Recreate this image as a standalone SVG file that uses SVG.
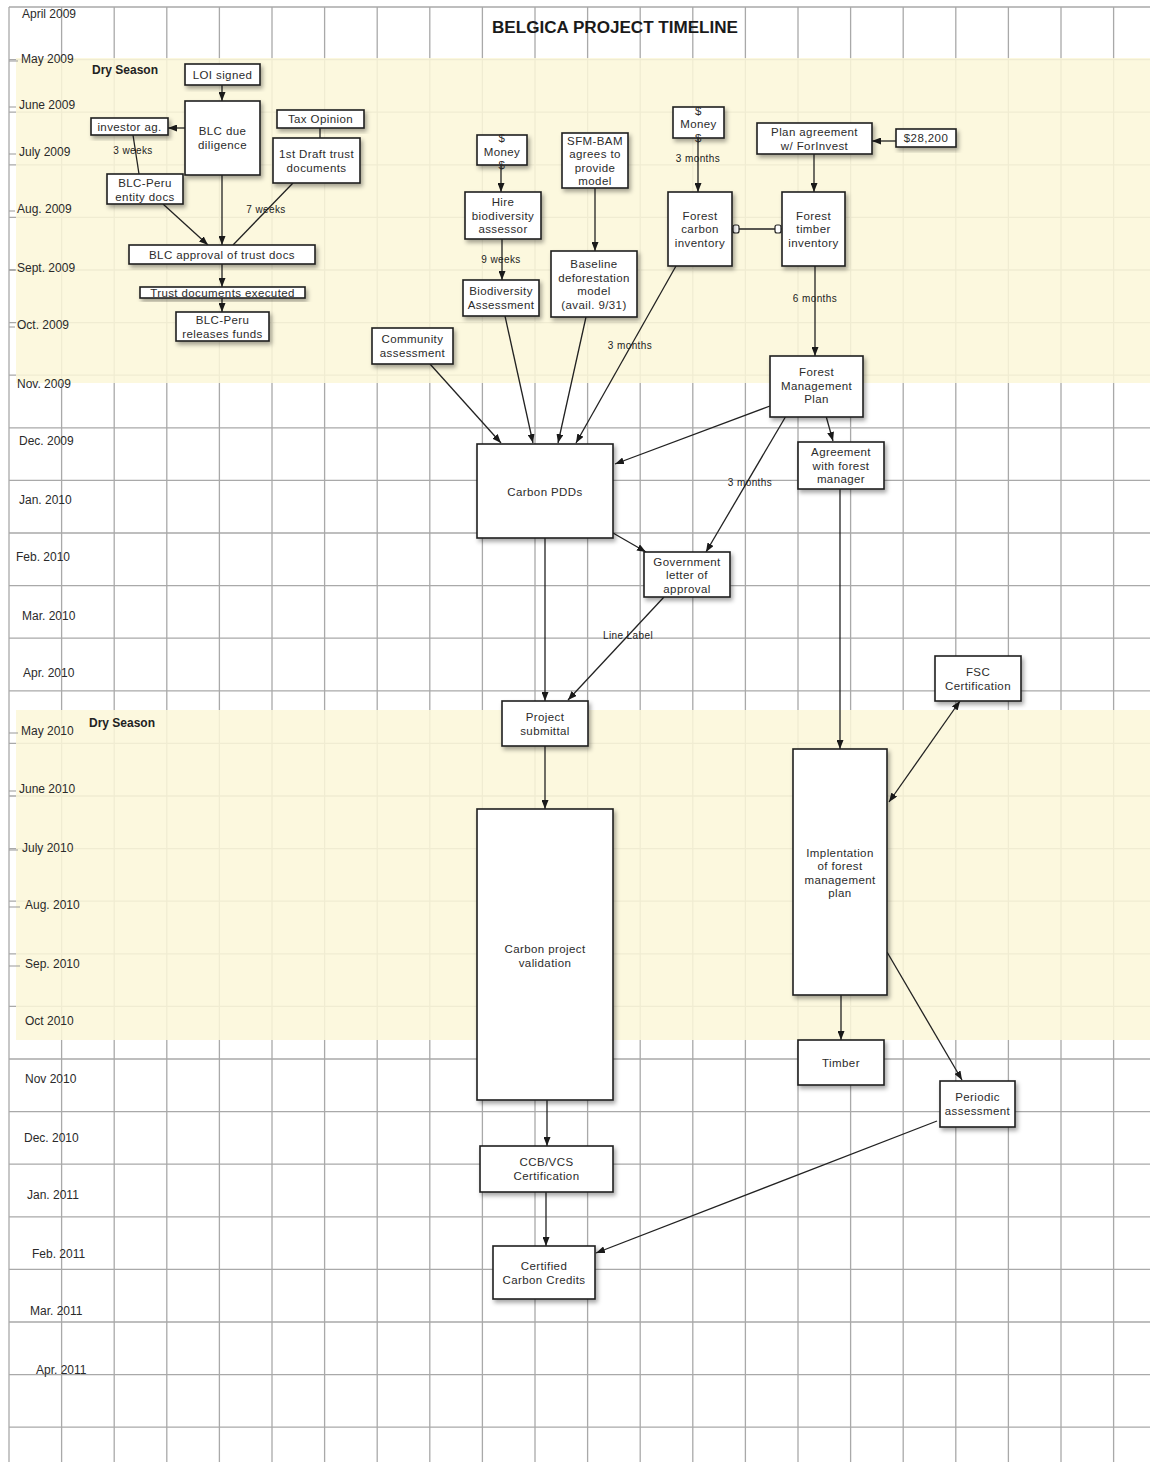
<svg xmlns="http://www.w3.org/2000/svg" width="1150" height="1462" viewBox="0 0 1150 1462">
  <style>
    .grid line { stroke: #a9a9a9; stroke-width: 1.3; }
    .band { fill: #fcf7d9; fill-opacity: 0.86; }
    .month { font-family: "Liberation Sans", Arial, sans-serif; font-size: 12px; fill: #2a2a2a; }
    .tick { stroke: #999; stroke-width: 1; }
    .title { font-family: "Liberation Sans", Arial, sans-serif; font-size: 16px; font-weight: bold; fill: #1a1a1a; }
    .season { font-family: "Liberation Sans", Arial, sans-serif; font-size: 12px; font-weight: bold; fill: #222; }
    .node rect { fill: #ffffff; stroke: #1e1e1e; stroke-width: 1.6; filter: url(#shadow); }
    .node text { font-family: "Liberation Sans", Arial, sans-serif; font-size: 11.5px; letter-spacing: 0.4px; fill: #2b2b2b; text-anchor: middle; }
    .edges line, .edges path { stroke: #222; stroke-width: 1.3; fill: none; }
    .arrow { marker-end: url(#head); }
    .elabel { font-family: "Liberation Sans", Arial, sans-serif; font-size: 10px; letter-spacing: 0.4px; fill: #222; text-anchor: middle; }
    .port { fill: #fff; stroke: #222; stroke-width: 1.2; }
  </style>
  <defs>
    <filter id="shadow" x="-20%" y="-20%" width="150%" height="150%">
      <feDropShadow dx="2" dy="3" stdDeviation="2" flood-color="#000" flood-opacity="0.35"/>
    </filter>
    <marker id="head" viewBox="0 0 9 7" refX="9" refY="3.5" markerWidth="9" markerHeight="7" markerUnits="userSpaceOnUse" orient="auto-start-reverse">
      <path d="M0,0 L9,3.5 L0,7 z" fill="#1a1a1a"/>
    </marker>
  </defs>

  <rect x="0" y="0" width="1150" height="1462" fill="#ffffff"/>

  <!-- background grid -->
  <g class="grid">
    <line x1="9" y1="7" x2="9" y2="1462"/>
    <line x1="61.6" y1="7" x2="61.6" y2="1462"/>
    <line x1="114.2" y1="7" x2="114.2" y2="1462"/>
    <line x1="166.8" y1="7" x2="166.8" y2="1462"/>
    <line x1="219.4" y1="7" x2="219.4" y2="1462"/>
    <line x1="272" y1="7" x2="272" y2="1462"/>
    <line x1="324.6" y1="7" x2="324.6" y2="1462"/>
    <line x1="377.2" y1="7" x2="377.2" y2="1462"/>
    <line x1="429.8" y1="7" x2="429.8" y2="1462"/>
    <line x1="482.4" y1="7" x2="482.4" y2="1462"/>
    <line x1="535" y1="7" x2="535" y2="1462"/>
    <line x1="587.6" y1="7" x2="587.6" y2="1462"/>
    <line x1="640.2" y1="7" x2="640.2" y2="1462"/>
    <line x1="692.8" y1="7" x2="692.8" y2="1462"/>
    <line x1="745.4" y1="7" x2="745.4" y2="1462"/>
    <line x1="798" y1="7" x2="798" y2="1462"/>
    <line x1="850.6" y1="7" x2="850.6" y2="1462"/>
    <line x1="903.2" y1="7" x2="903.2" y2="1462"/>
    <line x1="955.8" y1="7" x2="955.8" y2="1462"/>
    <line x1="1008.4" y1="7" x2="1008.4" y2="1462"/>
    <line x1="1061" y1="7" x2="1061" y2="1462"/>
    <line x1="1113.6" y1="7" x2="1113.6" y2="1462"/>
    <line x1="9" y1="7" x2="1150" y2="7"/>
    <line x1="9" y1="59.6" x2="1150" y2="59.6"/>
    <line x1="9" y1="112.2" x2="1150" y2="112.2"/>
    <line x1="9" y1="164.8" x2="1150" y2="164.8"/>
    <line x1="9" y1="217.4" x2="1150" y2="217.4"/>
    <line x1="9" y1="270" x2="1150" y2="270"/>
    <line x1="9" y1="322.6" x2="1150" y2="322.6"/>
    <line x1="9" y1="375.2" x2="1150" y2="375.2"/>
    <line x1="9" y1="427.8" x2="1150" y2="427.8"/>
    <line x1="9" y1="480.4" x2="1150" y2="480.4"/>
    <line x1="9" y1="533" x2="1150" y2="533"/>
    <line x1="9" y1="585.6" x2="1150" y2="585.6"/>
    <line x1="9" y1="638.2" x2="1150" y2="638.2"/>
    <line x1="9" y1="690.8" x2="1150" y2="690.8"/>
    <line x1="9" y1="743.4" x2="1150" y2="743.4"/>
    <line x1="9" y1="796" x2="1150" y2="796"/>
    <line x1="9" y1="848.6" x2="1150" y2="848.6"/>
    <line x1="9" y1="901.2" x2="1150" y2="901.2"/>
    <line x1="9" y1="953.8" x2="1150" y2="953.8"/>
    <line x1="9" y1="1006.4" x2="1150" y2="1006.4"/>
    <line x1="9" y1="1059" x2="1150" y2="1059"/>
    <line x1="9" y1="1111.6" x2="1150" y2="1111.6"/>
    <line x1="9" y1="1164.2" x2="1150" y2="1164.2"/>
    <line x1="9" y1="1216.8" x2="1150" y2="1216.8"/>
    <line x1="9" y1="1269.4" x2="1150" y2="1269.4"/>
    <line x1="9" y1="1322" x2="1150" y2="1322"/>
    <line x1="9" y1="1374.6" x2="1150" y2="1374.6"/>
    <line x1="9" y1="1427.2" x2="1150" y2="1427.2"/>
  </g>

  <!-- dry season bands -->
  <rect class="band" x="16" y="58" width="1134" height="325"/>
  <rect class="band" x="16" y="710" width="1134" height="330"/>

  <!-- month axis -->
  <g id="months">
    <g class="tick">
      <line x1="9" y1="61" x2="18" y2="61"/>
      <line x1="9" y1="107" x2="16" y2="107"/>
      <line x1="9" y1="154" x2="16" y2="154"/>
      <line x1="9" y1="211" x2="15" y2="211"/>
      <line x1="9" y1="270" x2="15" y2="270"/>
      <line x1="9" y1="327" x2="15" y2="327"/>
      <line x1="9" y1="733" x2="18" y2="733"/>
      <line x1="9" y1="791" x2="16" y2="791"/>
      <line x1="9" y1="850" x2="18" y2="850"/>
      <line x1="9" y1="907" x2="20" y2="907"/>
      <line x1="9" y1="966" x2="20" y2="966"/>
    </g>
    <text class="month" x="22" y="18">April 2009</text>
    <text class="month" x="21" y="63">May 2009</text>
    <text class="month" x="19" y="109">June 2009</text>
    <text class="month" x="19" y="156">July 2009</text>
    <text class="month" x="17" y="213">Aug. 2009</text>
    <text class="month" x="17" y="272">Sept. 2009</text>
    <text class="month" x="17" y="329">Oct. 2009</text>
    <text class="month" x="17" y="388">Nov. 2009</text>
    <text class="month" x="19" y="445">Dec. 2009</text>
    <text class="month" x="19" y="504">Jan. 2010</text>
    <text class="month" x="16" y="561">Feb. 2010</text>
    <text class="month" x="22" y="620">Mar. 2010</text>
    <text class="month" x="23" y="677">Apr. 2010</text>
    <text class="month" x="21" y="735">May 2010</text>
    <text class="month" x="19" y="793">June 2010</text>
    <text class="month" x="22" y="852">July 2010</text>
    <text class="month" x="25" y="909">Aug. 2010</text>
    <text class="month" x="25" y="968">Sep. 2010</text>
    <text class="month" x="25" y="1025">Oct 2010</text>
    <text class="month" x="25" y="1083">Nov 2010</text>
    <text class="month" x="24" y="1142">Dec. 2010</text>
    <text class="month" x="27" y="1199">Jan. 2011</text>
    <text class="month" x="32" y="1258">Feb. 2011</text>
    <text class="month" x="30" y="1315">Mar. 2011</text>
    <text class="month" x="36" y="1374">Apr. 2011</text>
  </g>

  <text class="title" x="615" y="33" text-anchor="middle" textLength="246" lengthAdjust="spacingAndGlyphs">BELGICA PROJECT TIMELINE</text>
  <text class="season" x="92" y="74">Dry Season</text>
  <text class="season" x="89" y="727">Dry Season</text>

  <!-- connectors -->
  <g class="edges">
    <line class="arrow" x1="222" y1="85" x2="222" y2="101"/>
    <line class="arrow" x1="185" y1="128" x2="168" y2="128"/>
    <line x1="133" y1="135" x2="139" y2="174"/>
    <line class="arrow" x1="222" y1="175" x2="222" y2="245"/>
    <line class="arrow" x1="163" y1="204" x2="208" y2="245"/>
    <line x1="293" y1="183" x2="233" y2="245"/>
    <line x1="320" y1="128" x2="320" y2="138"/>
    <line class="arrow" x1="222" y1="264" x2="222" y2="287"/>
    <line class="arrow" x1="222" y1="298" x2="222" y2="312"/>

    <line class="arrow" x1="501" y1="165" x2="501" y2="192"/>
    <line class="arrow" x1="502" y1="239" x2="502" y2="280"/>
    <line class="arrow" x1="595" y1="188" x2="595" y2="251"/>
    <line class="arrow" x1="698" y1="138" x2="698" y2="192"/>
    <line class="arrow" x1="814" y1="154" x2="814" y2="192"/>
    <line class="arrow" x1="896" y1="141" x2="872" y2="141"/>
    <line x1="732" y1="229" x2="782" y2="229"/>
    <rect class="port" x="733" y="225" width="6" height="8" rx="2"/>
    <rect class="port" x="775" y="225" width="6" height="8" rx="2"/>
    <line class="arrow" x1="815" y1="266" x2="815" y2="356"/>

    <line class="arrow" x1="505" y1="316" x2="533" y2="443"/>
    <line class="arrow" x1="586" y1="317" x2="558" y2="443"/>
    <line class="arrow" x1="676" y1="266" x2="576" y2="443"/>
    <line class="arrow" x1="430" y1="364" x2="501" y2="443"/>
    <line class="arrow" x1="770" y1="406" x2="615" y2="464"/>
    <line class="arrow" x1="786" y1="416" x2="706" y2="552"/>
    <line class="arrow" x1="826" y1="416" x2="833" y2="441"/>

    <line class="arrow" x1="613" y1="533" x2="646" y2="552"/>
    <line class="arrow" x1="545" y1="538" x2="545" y2="701"/>
    <line class="arrow" x1="664" y1="597" x2="568" y2="700"/>
    <line class="arrow" x1="840" y1="489" x2="840" y2="749"/>

    <line class="arrow" x1="545" y1="746" x2="545" y2="809"/>
    <line class="arrow" x1="547" y1="1100" x2="547" y2="1146"/>
    <line class="arrow" x1="546" y1="1192" x2="546" y2="1246"/>
    <line class="arrow" x1="841" y1="995" x2="841" y2="1040"/>
    <line class="arrow" x1="887" y1="952" x2="962" y2="1080"/>
    <line class="arrow" x1="889" y1="802" x2="960" y2="701" marker-start="url(#head)"/>
    <line class="arrow" x1="937" y1="1121" x2="596" y2="1253"/>

    <text class="elabel" x="133" y="154">3 weeks</text>
    <text class="elabel" x="266" y="213">7 weeks</text>
    <text class="elabel" x="501" y="263">9 weeks</text>
    <text class="elabel" x="698" y="162">3 months</text>
    <text class="elabel" x="815" y="302">6 months</text>
    <text class="elabel" x="630" y="349">3 months</text>
    <text class="elabel" x="750" y="486">3 months</text>
    <text class="elabel" x="628" y="639">Line Label</text>
  </g>

  <!-- nodes -->
  <g id="loi-signed" class="node"><rect x="185" y="64" width="75" height="21"/><text x="222.5" y="78.5">LOI signed</text></g>
  <g id="blc-due-diligence" class="node"><rect x="185" y="101" width="75" height="74"/><text x="222.5" y="135">BLC due</text><text x="222.5" y="149">diligence</text></g>
  <g id="investor-ag" class="node"><rect x="91" y="118" width="77" height="17"/><text x="129.5" y="130.5">investor ag.</text></g>
  <g id="tax-opinion" class="node"><rect x="277" y="110" width="87" height="18"/><text x="320.5" y="123">Tax Opinion</text></g>
  <g id="first-draft" class="node"><rect x="273" y="138" width="87" height="45"/><text x="316.5" y="158">1st Draft trust</text><text x="316.5" y="172">documents</text></g>
  <g id="blc-peru-entity" class="node"><rect x="107" y="174" width="76" height="30"/><text x="145" y="187">BLC-Peru</text><text x="145" y="201">entity docs</text></g>
  <g id="blc-approval" class="node"><rect x="129" y="245" width="186" height="19"/><text x="222" y="258.5">BLC approval of trust docs</text></g>
  <g id="trust-executed" class="node"><rect x="140" y="287" width="165" height="11"/><text x="222.5" y="296.5">Trust documents executed</text></g>
  <g id="blc-peru-releases" class="node"><rect x="176" y="312" width="93" height="29"/><text x="222.5" y="324">BLC-Peru</text><text x="222.5" y="337.5">releases funds</text></g>

  <g id="money-1" class="node"><rect x="477" y="135" width="50" height="30"/><text x="502" y="142">$</text><text x="502" y="155.5">Money</text><text x="502" y="169">$</text></g>
  <g id="hire-assessor" class="node"><rect x="465" y="192" width="76" height="47"/><text x="503" y="206">Hire</text><text x="503" y="219.5">biodiversity</text><text x="503" y="233">assessor</text></g>
  <g id="biodiversity-assessment" class="node"><rect x="463" y="280" width="76" height="36"/><text x="501" y="295">Biodiversity</text><text x="501" y="309">Assessment</text></g>
  <g id="sfm-bam" class="node"><rect x="562" y="133" width="66" height="55"/><text x="595" y="144.5">SFM-BAM</text><text x="595" y="158">agrees to</text><text x="595" y="171.5">provide</text><text x="595" y="185">model</text></g>
  <g id="baseline-model" class="node"><rect x="551" y="251" width="86" height="66"/><text x="594" y="268">Baseline</text><text x="594" y="281.5">deforestation</text><text x="594" y="295">model</text><text x="594" y="308.5">(avail. 9/31)</text></g>
  <g id="community-assessment" class="node"><rect x="372" y="328" width="81" height="36"/><text x="412.5" y="343">Community</text><text x="412.5" y="357">assessment</text></g>
  <g id="money-2" class="node"><rect x="673" y="107" width="51" height="31"/><text x="698.5" y="114.5">$</text><text x="698.5" y="128">Money</text><text x="698.5" y="141.5">$</text></g>
  <g id="plan-agreement" class="node"><rect x="757" y="123" width="115" height="31"/><text x="814.5" y="136">Plan agreement</text><text x="814.5" y="149.5">w/ ForInvest</text></g>
  <g id="funding-28200" class="node"><rect x="896" y="129" width="60" height="18"/><text x="926" y="142">$28,200</text></g>
  <g id="forest-carbon" class="node"><rect x="668" y="192" width="64" height="74"/><text x="700" y="219.5">Forest</text><text x="700" y="233">carbon</text><text x="700" y="246.5">inventory</text></g>
  <g id="forest-timber" class="node"><rect x="782" y="192" width="63" height="74"/><text x="813.5" y="219.5">Forest</text><text x="813.5" y="233">timber</text><text x="813.5" y="246.5">inventory</text></g>
  <g id="forest-management-plan" class="node"><rect x="770" y="356" width="93" height="61"/><text x="816.5" y="376">Forest</text><text x="816.5" y="389.5">Management</text><text x="816.5" y="403">Plan</text></g>

  <g id="carbon-pdds" class="node"><rect x="477" y="444" width="136" height="94"/><text x="545" y="496">Carbon PDDs</text></g>
  <g id="government-letter" class="node"><rect x="644" y="552" width="86" height="45"/><text x="687" y="565.5">Government</text><text x="687" y="579">letter of</text><text x="687" y="592.5">approval</text></g>
  <g id="agreement-manager" class="node"><rect x="798" y="442" width="86" height="47"/><text x="841" y="456">Agreement</text><text x="841" y="469.5">with forest</text><text x="841" y="483">manager</text></g>
  <g id="project-submittal" class="node"><rect x="502" y="701" width="86" height="45"/><text x="545" y="721">Project</text><text x="545" y="734.5">submittal</text></g>
  <g id="fsc-certification" class="node"><rect x="935" y="656" width="86" height="45"/><text x="978" y="676">FSC</text><text x="978" y="689.5">Certification</text></g>

  <g id="carbon-validation" class="node"><rect x="477" y="809" width="136" height="291"/><text x="545" y="953">Carbon project</text><text x="545" y="967">validation</text></g>
  <g id="fmp-implementation" class="node"><rect x="793" y="749" width="94" height="246"/><text x="840" y="856.5">Implentation</text><text x="840" y="870">of forest</text><text x="840" y="883.5">management</text><text x="840" y="897">plan</text></g>
  <g id="timber" class="node"><rect x="798" y="1040" width="86" height="45"/><text x="841" y="1066.5">Timber</text></g>
  <g id="periodic-assessment" class="node"><rect x="940" y="1081" width="75" height="46"/><text x="977.5" y="1101">Periodic</text><text x="977.5" y="1115">assessment</text></g>
  <g id="ccb-vcs" class="node"><rect x="480" y="1146" width="133" height="46"/><text x="546.5" y="1166">CCB/VCS</text><text x="546.5" y="1179.5">Certification</text></g>
  <g id="certified-credits" class="node"><rect x="493" y="1246" width="102" height="53"/><text x="544" y="1270">Certified</text><text x="544" y="1283.5">Carbon Credits</text></g>
</svg>
